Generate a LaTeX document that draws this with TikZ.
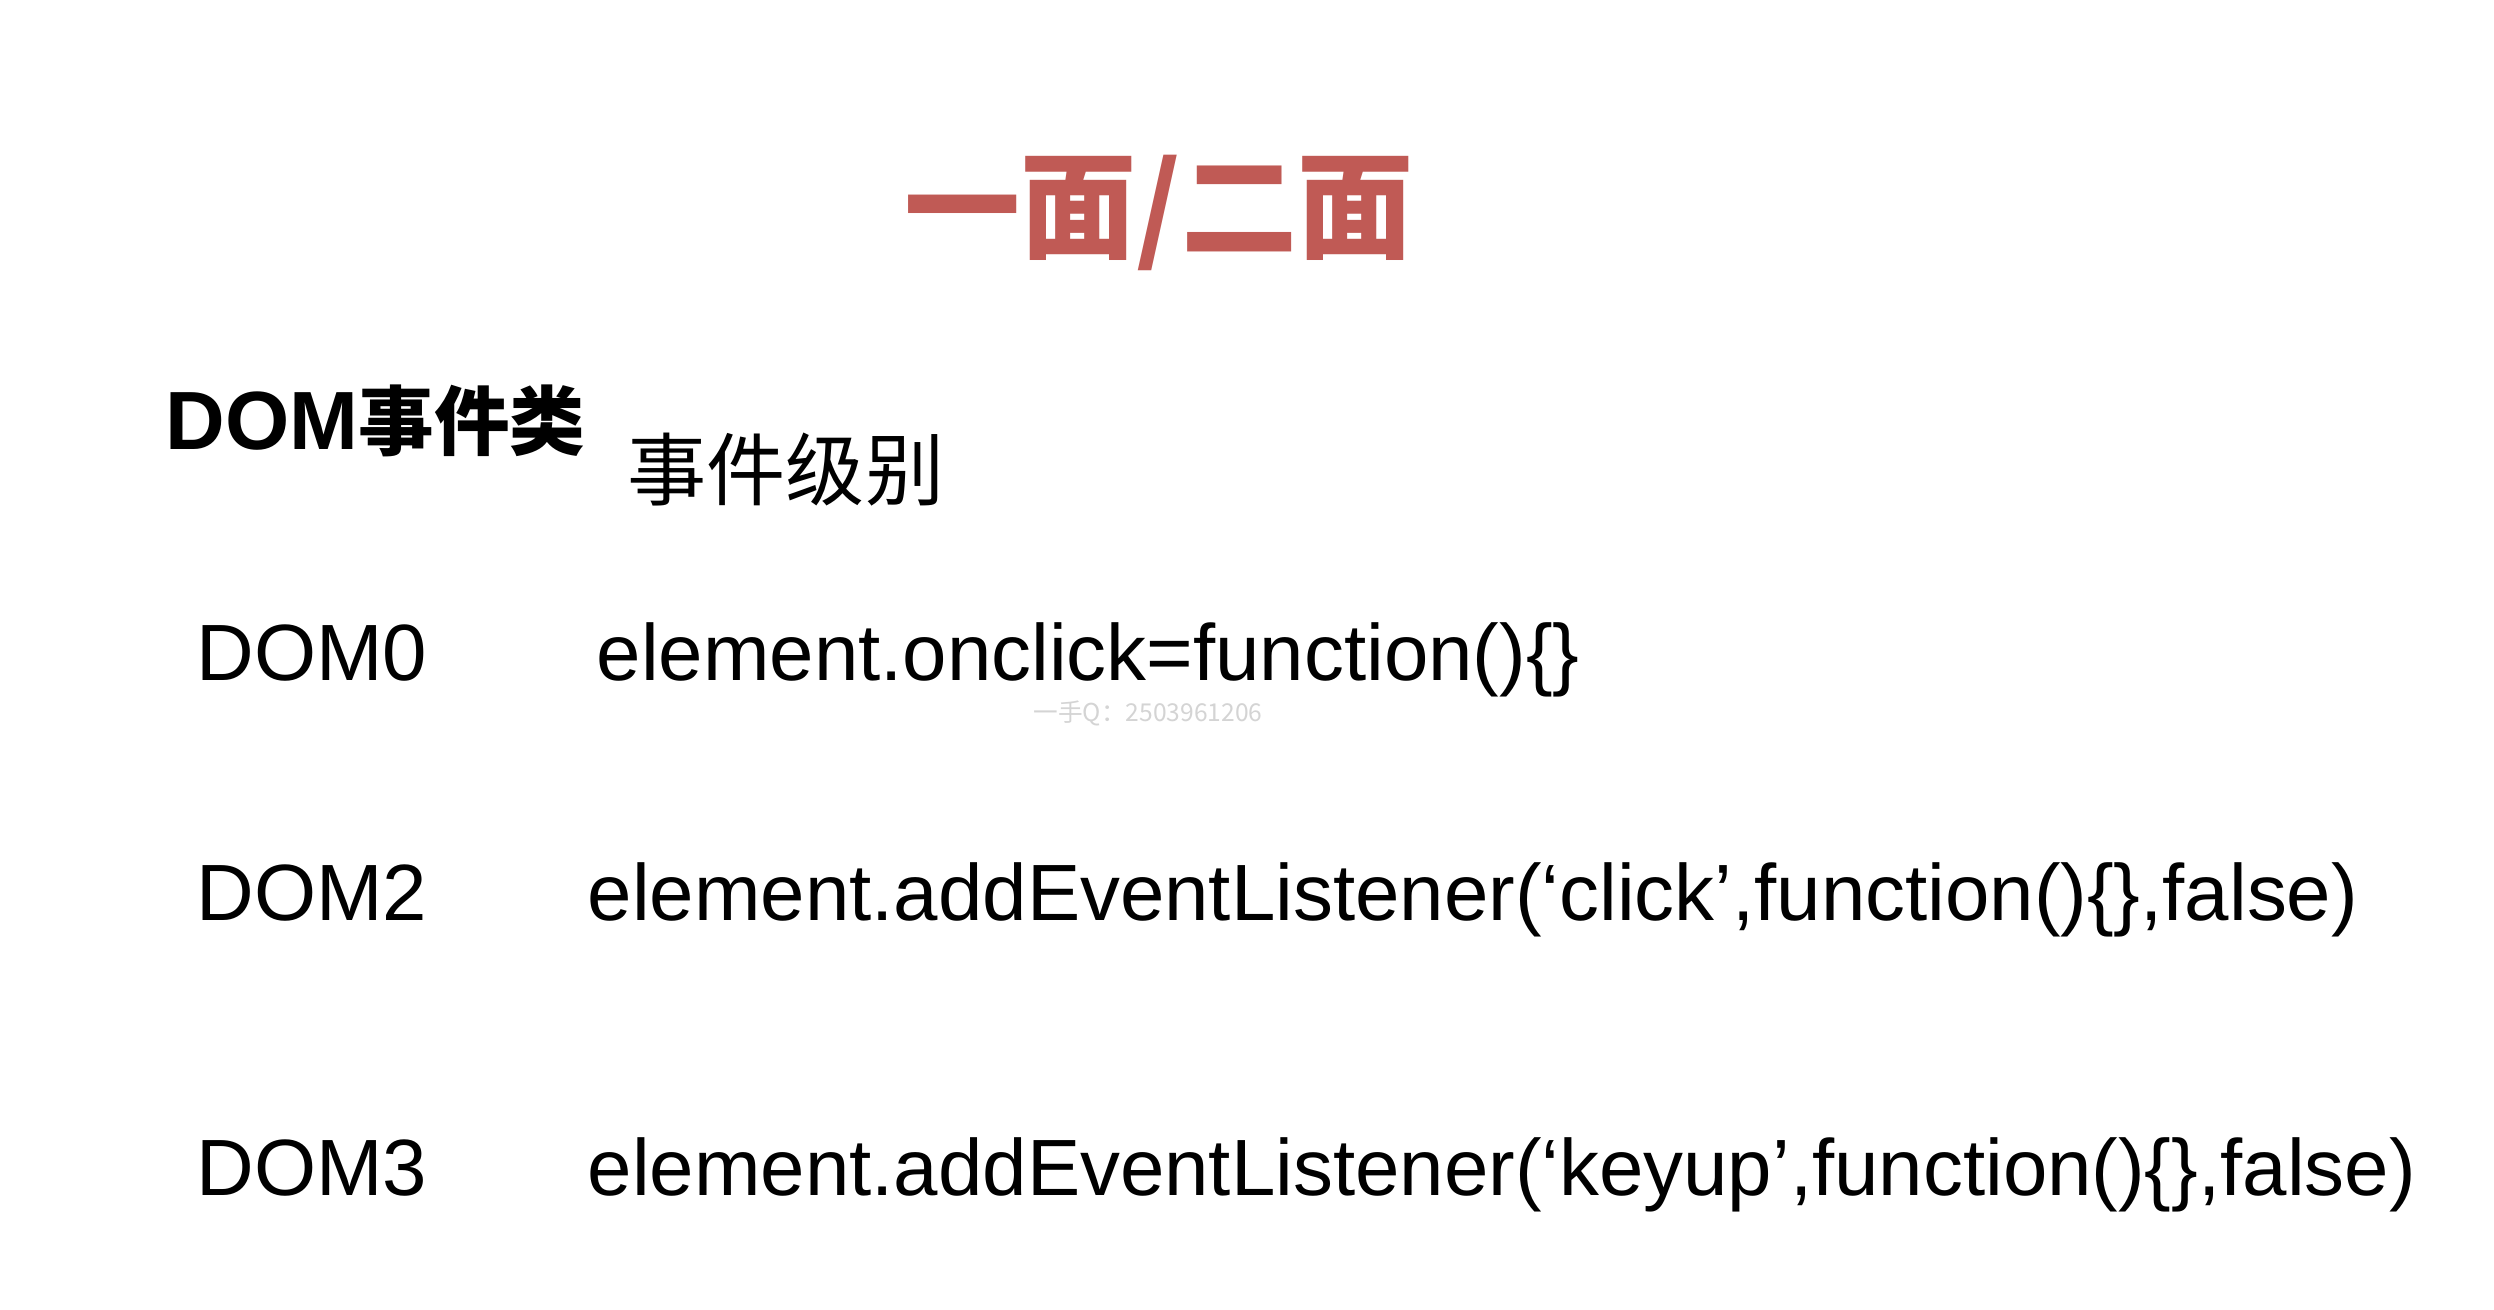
\documentclass[tikz,border=0pt]{standalone}
\usepackage{fontspec}
\setmainfont{Liberation Sans}
\newfontfamily\cjk{Noto Sans CJK SC}
\definecolor{titlered}{RGB}{192,90,85}
\definecolor{markgray}{RGB}{212,212,212}
\tikzset{
  txt/.style={inner sep=0pt, anchor=base west},
  label_dom/.style={txt, font=\fontsize{22.7}{27}\selectfont},
  code/.style={txt, font=\fontsize{22.7}{27}\selectfont}
}

\begin{document}
\begin{tikzpicture}[x=0.01cm, y=-0.01cm]
  \useasboundingbox[fill=white] (0,0) rectangle (2494,1310);

  \node[txt, text=titlered, font=\cjk\bfseries\fontsize{33}{38}\selectfont] (title) at (904,250) {一面/二面};

  \node[txt, font=\bfseries\fontsize{23.5}{28}\selectfont] (dom_class) at (165,450) {DOM{\cjk\fontsize{21.5}{25}\selectfont 事件类}};
  \node[txt, font=\cjk\fontsize{22.5}{26}\selectfont] (level) at (627,500) {事件级别};

  \node[label_dom] (dom_0) at (196,681) {DOM0};
  \node[code] (code_0) at (596,681) {element.onclick=function()\{\}};
  \node[txt, text=markgray, font=\cjk\fontsize{7}{8}\selectfont] (mark) at (1033,722) {一手Q：2503961206};

  \node[label_dom] (dom_2) at (196,921) {DOM2};
  \node[code] (code_2) at (587,921) {element.addEventListener(‘click’,function()\{\},false)};

  \node[label_dom] (dom_3) at (196,1195) {DOM3};
  \node[code] (code_3) at (587,1195) {element.addEventListener(‘keyup’,function()\{\},false)};
\end{tikzpicture}
\end{document}
